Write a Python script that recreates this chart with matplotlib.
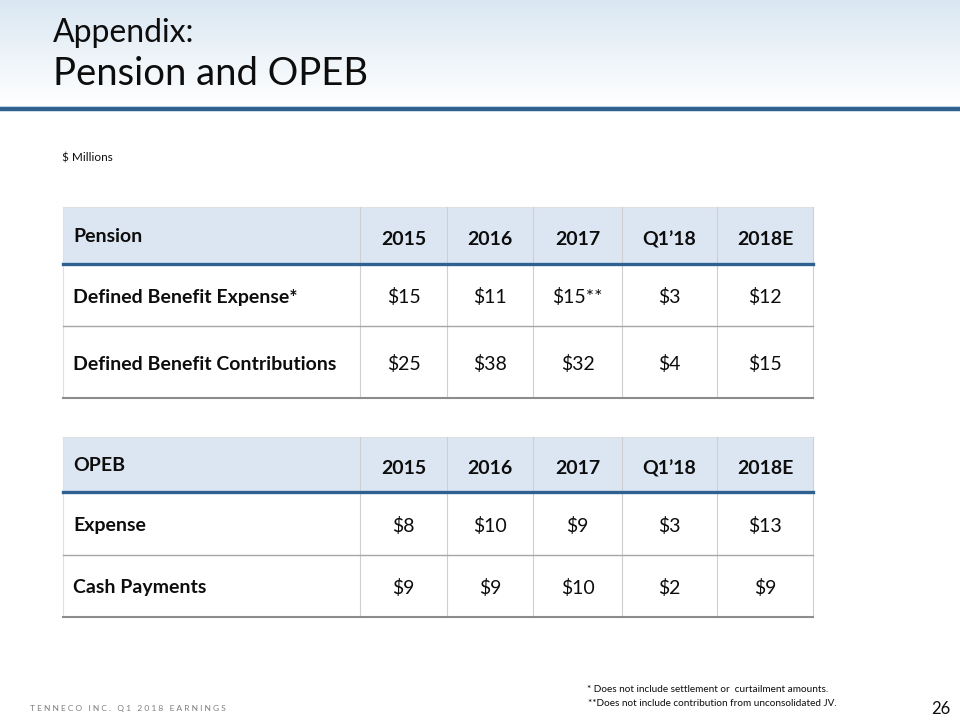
import matplotlib
matplotlib.use('Agg')
import matplotlib.pyplot as plt
from matplotlib.patches import Rectangle
import numpy as np

plt.rcParams['font.family'] = ['Lato', 'DejaVu Sans']

# data
columns = ['2015', '2016', '2017', 'Q1\u201918', '2018E']
pension_rows = ['Defined Benefit Expense*', 'Defined Benefit Contributions']
pension_vals = [['$15', '$11', '$15**', '$3', '$12'],
                ['$25', '$38', '$32', '$4', '$15']]
opeb_rows = ['Expense', 'Cash Payments']
opeb_vals = [['$8', '$10', '$9', '$3', '$13'],
             ['$9', '$9', '$10', '$2', '$9']]

HEAD_BG = '#dce6f2'
DARK = '#2e6190'
TXT = '#0d0d0d'
FS = 14

fig = plt.figure(figsize=(9.6, 7.2), dpi=100)
ax = fig.add_axes([0, 0, 1, 1])
ax.set_xlim(0, 960)
ax.set_ylim(720, 0)
ax.axis('off')

# header gradient band
grad = np.linspace(0, 1, 100).reshape(-1, 1)
top = np.array([0.855, 0.906, 0.949])
bot = np.array([1.0, 1.0, 1.0])
img = top[None, None, :] * (1 - grad[:, :, None]) + bot[None, None, :] * grad[:, :, None]
ax.imshow(img, extent=[0, 960, 106, 0], aspect='auto', zorder=0)
ax.plot([0, 960], [108.5, 108.5], color=DARK, lw=3.2, solid_capstyle='butt')
ax.plot([0, 960], [105.5, 105.5], color='#bcd2e6', lw=0.8)

ax.text(53, 33, 'Appendix:', fontsize=23, color=TXT, va='center', ha='left')
ax.text(53, 74, 'Pension and OPEB', fontsize=27.5, color=TXT, va='center', ha='left')
ax.text(62, 158, '$ Millions', fontsize=8.5, color=TXT, va='center', ha='left')

col_edges = [63, 360, 447, 533, 622, 717, 813]


def draw_table(y_top, y_head, row_bottoms, title, rows, vals):
    x0, x1 = col_edges[0], col_edges[-1]
    ax.add_patch(Rectangle((x0, y_top), x1 - x0, y_head - y_top,
                           facecolor=HEAD_BG, edgecolor='none', zorder=1))
    ax.plot([x0, x1], [y_top, y_top], color='#e0e0e0', lw=0.8, zorder=2)
    y_bot = row_bottoms[-1]
    for x in col_edges[1:-1]:
        ax.plot([x, x], [y_top, y_bot], color='#cfcfcf', lw=0.8, zorder=2)
    ax.plot([x0, x0], [y_top, y_bot], color='#e0e0e0', lw=0.8, zorder=2)
    ax.plot([x1, x1], [y_top, y_bot], color='#cfcfcf', lw=0.8, zorder=2)
    for i, yb in enumerate(row_bottoms):
        lw = 1.5 if i == len(row_bottoms) - 1 else 1.0
        col = '#8c8c8c' if i == len(row_bottoms) - 1 else '#a6a6a6'
        ax.plot([x0, x1], [yb, yb], color=col, lw=lw, zorder=3)
    ax.plot([x0, x1], [y_head, y_head], color=DARK, lw=2.4, zorder=4)

    ax.text(x0 + 10, (y_top + y_head) / 2 + 1, title, fontsize=FS,
            fontweight='bold', color=TXT, va='center', ha='left')
    for j, c in enumerate(columns):
        xc = (col_edges[j + 1] + col_edges[j + 2]) / 2
        ax.text(xc, (y_top + y_head) / 2 + 4, c, fontsize=FS,
                fontweight='bold', color=TXT, va='center', ha='center')
    prev = y_head
    for i, r in enumerate(rows):
        yc = (prev + row_bottoms[i]) / 2 + 2
        ax.text(x0 + 10, yc, r, fontsize=FS, fontweight='bold',
                color=TXT, va='center', ha='left')
        for j, v in enumerate(vals[i]):
            xc = (col_edges[j + 1] + col_edges[j + 2]) / 2
            ax.text(xc, yc, v, fontsize=FS, color=TXT, va='center', ha='center')
        prev = row_bottoms[i]


draw_table(207, 264, [326, 398], 'Pension', pension_rows, pension_vals)
draw_table(437, 492, [555, 617], 'OPEB', opeb_rows, opeb_vals)

# footer
ax.text(30, 708, 'T E N N E C O   I N C .   Q 1   2 0 1 8   E A R N I N G S',
        fontsize=6, color='#7f7f7f', va='center', ha='left')
ax.text(587, 689, '* Does not include settlement or  curtailment amounts.',
        fontsize=7.2, color=TXT, va='center', ha='left')
ax.text(588, 703, '**Does not include contribution from unconsolidated JV.',
        fontsize=7.2, color=TXT, va='center', ha='left')
ax.text(950, 709, '26', fontsize=12, color=TXT, va='center', ha='right')

fig.savefig('out.png', dpi=100)
